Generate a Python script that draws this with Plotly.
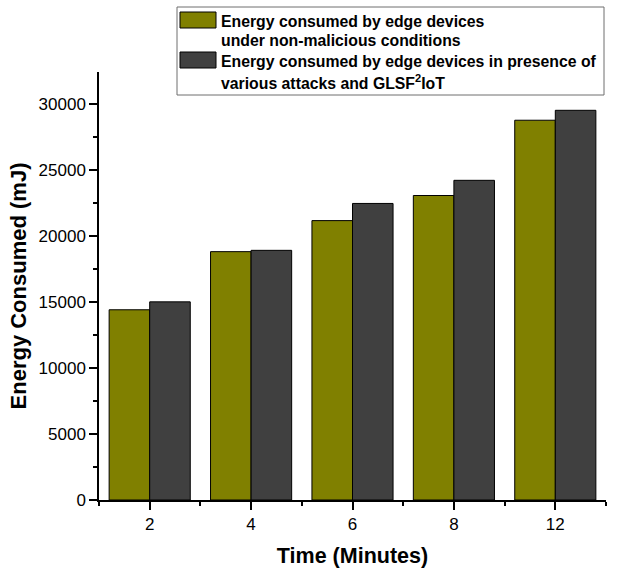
import plotly.graph_objects as go

# Time intervals (minutes) on the x axis
times = ["2", "4", "6", "8", "12"]

# Energy consumed (mJ)
normal_energy = [14400, 18800, 21150, 23050, 28750]
attack_energy = [15000, 18900, 22450, 24200, 29500]

series_names = [
    "Energy consumed by edge devices<br>under non-malicious conditions",
    "Energy consumed by edge devices in presence of<br>various attacks and GLSF<sup>2</sup>IoT",
]
series_colors = ["#808000", "#404040"]

W, H = 630, 568
L, R, T, B = 99, 24, 72, 68
x_pos = list(range(len(times)))

fig = go.Figure()
for vals, name, color in zip([normal_energy, attack_energy], series_names, series_colors):
    fig.add_trace(go.Bar(
        x=x_pos, y=vals, name=name,
        marker=dict(color=color, line=dict(color="#000000", width=1)),
        showlegend=False,
    ))


def px_x(p):
    return (p - L) / (W - L - R)


def px_y(p):
    return 1 - (p - T) / (H - T - B)


# Boxed key in the upper part of the plot area
shapes = [dict(type="rect", xref="paper", yref="paper",
               x0=px_x(177), x1=px_x(604), y0=px_y(95), y1=px_y(7),
               line=dict(color="#6e6e6e", width=1), fillcolor="white", layer="above")]
annotations = []
sym_tops = [12, 52]
line_centers = [[21, 41], [61, 82]]
for name, color, top, centers in zip(series_names, series_colors, sym_tops, line_centers):
    shapes.append(dict(type="rect", xref="paper", yref="paper",
                       x0=px_x(180), x1=px_x(216), y0=px_y(top + 16), y1=px_y(top),
                       line=dict(color="#000000", width=1), fillcolor=color, layer="above"))
    for text, cy in zip(name.split("<br>"), centers):
        annotations.append(dict(xref="paper", yref="paper", x=px_x(219), y=px_y(cy),
                                xanchor="left", yanchor="middle", showarrow=False,
                                text="<b>" + text + "</b>",
                                font=dict(family="Liberation Sans, Arial", size=15.8, color="#000000")))

fig.update_layout(
    width=W, height=H,
    margin=dict(l=L, r=R, t=T, b=B, autoexpand=False),
    paper_bgcolor="white", plot_bgcolor="white",
    barmode="group", bargap=0.2, bargroupgap=0,
    font=dict(family="Liberation Sans, Arial", color="#000000"),
    shapes=shapes, annotations=annotations,
)
fig.update_xaxes(
    range=[-0.5, 4.5], tickmode="array", tickvals=x_pos, ticktext=times,
    showline=True, linecolor="#000000", linewidth=1.5, showgrid=False, zeroline=False,
    ticks="outside", ticklen=8, tickwidth=1.5, tickcolor="#000000",
    tickfont=dict(size=17), automargin=False,
    minor=dict(tickmode="linear", tick0=-0.5, dtick=1, ticks="outside", ticklen=4,
               tickwidth=1.5, tickcolor="#000000", showgrid=False),
    title=dict(text="<b>Time (Minutes)</b>", font=dict(size=21.5), standoff=16),
)
fig.update_yaxes(
    range=[0, 32400], tickmode="linear", tick0=0, dtick=5000, tickformat="d",
    showline=True, linecolor="#000000", linewidth=1.5, showgrid=False, zeroline=False,
    ticks="outside", ticklen=8, tickwidth=1.5, tickcolor="#000000",
    tickfont=dict(size=17), automargin=False,
    minor=dict(tickmode="linear", tick0=0, dtick=2500, ticks="outside", ticklen=4,
               tickwidth=1.5, tickcolor="#000000", showgrid=False),
    title=dict(text="<b>Energy Consumed (mJ)</b>", font=dict(size=22), standoff=6),
)

fig.write_html("out.html")
